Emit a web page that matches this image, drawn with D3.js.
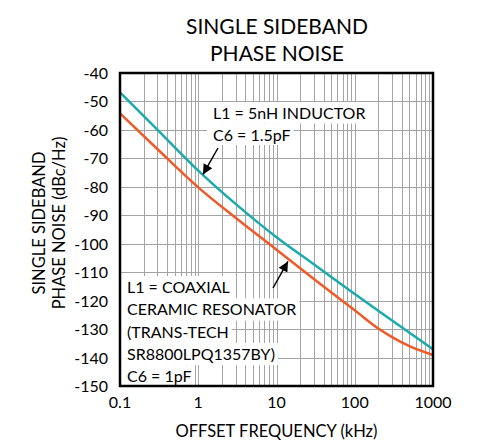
<!DOCTYPE html>
<html>
<head>
<meta charset="utf-8">
<script src="https://cdn.jsdelivr.net/npm/d3@7"></script>
<style>
body { margin: 0; background: #fff; }
svg { display: block; font-family: Lato, "Noto Sans", sans-serif; }
</style>
</head>
<body>
<div id="chart"></div>
<script>
var width = 481;
var height = 440;

// offset frequency (kHz) and SSB phase noise (dBc/Hz)
var freqInductor = [0.1, 0.3, 1, 3, 10, 30, 100, 300, 1000];
var inductorNoise = [-46.8, -59.9, -74.3, -86.0, -97.7, -107.2, -117.7, -127.0, -137.1];
var freqResonator = [0.1, 0.3, 1, 3, 10, 30, 100, 200, 300, 500, 1000];
var resonatorNoise = [-54.2, -66.7, -80.2, -90.9, -102.1, -112.4, -123.4, -129.8, -132.8, -136.0, -139.1];

var xTicks = [0.1, 1, 10, 100, 1000];
var xTickLabels = ["0.1", "1", "10", "100", "1000"];
var yTicks = [-40, -50, -60, -70, -80, -90, -100, -110, -120, -130, -140, -150];

var margin = { top: 73, right: 48, bottom: 54, left: 120 };

var x = d3.scaleLog().domain([0.1, 1000]).range([margin.left, width - margin.right]);
var y = d3.scaleLinear().domain([-150, -40]).range([height - margin.bottom, margin.top]);

var svg = d3.select("#chart").append("svg")
	.attr("width", width)
	.attr("height", height);

svg.append("defs").append("marker")
	.attr("id", "arrow")
	.attr("viewBox", "0 0 10 10")
	.attr("refX", 10).attr("refY", 5)
	.attr("markerWidth", 14).attr("markerHeight", 10)
	.attr("markerUnits", "userSpaceOnUse")
	.attr("orient", "auto")
	.append("path")
	.attr("d", "M0,0 L10,5 L0,10 z")
	.attr("fill", "#000");

// title
svg.append("text")
	.attr("x", 277).attr("y", 34)
	.attr("text-anchor", "middle")
	.attr("font-size", 21)
	.text("SINGLE SIDEBAND");
svg.append("text")
	.attr("x", 277).attr("y", 61)
	.attr("text-anchor", "middle")
	.attr("font-size", 21)
	.text("PHASE NOISE");

// grid
var minor = [];
for (var dec = 0.1; dec < 1000; dec *= 10) {
	for (var k = 1; k <= 10; k++) minor.push(+(dec * k).toPrecision(3));
}
var grid = svg.append("g").attr("stroke", "#a4a4a4").attr("stroke-width", 1);
grid.selectAll("line.v")
	.data(minor)
	.enter().append("line")
	.attr("class", "v")
	.attr("x1", function (d) { return Math.round(x(d)) + 0.5; })
	.attr("x2", function (d) { return Math.round(x(d)) + 0.5; })
	.attr("y1", y(-40)).attr("y2", y(-150));
grid.selectAll("line.h")
	.data(yTicks)
	.enter().append("line")
	.attr("class", "h")
	.attr("x1", x(0.1)).attr("x2", x(1000))
	.attr("y1", function (d) { return Math.round(y(d)) + 0.5; })
	.attr("y2", function (d) { return Math.round(y(d)) + 0.5; });

// curves
var line = d3.line()
	.x(function (d) { return x(d[0]); })
	.y(function (d) { return y(d[1]); })
	.curve(d3.curveMonotoneX);

svg.append("path")
	.attr("d", line(d3.zip(freqResonator, resonatorNoise)))
	.attr("fill", "none")
	.attr("stroke", "#f05a28")
	.attr("stroke-width", 2.5);
svg.append("path")
	.attr("d", line(d3.zip(freqInductor, inductorNoise)))
	.attr("fill", "none")
	.attr("stroke", "#1aabad")
	.attr("stroke-width", 2.5);

// annotations with white backing per line
function note(lines, x0, y0, step, boxLeft) {
	var g = svg.append("g");
	var texts = [];
	lines.forEach(function (s, i) {
		texts.push(g.append("text")
			.attr("x", x0).attr("y", y0 + i * step)
			.attr("font-size", 16)
			.text(s));
	});
	texts.forEach(function (t, i) {
		var bb = t.node().getBBox();
		g.insert("rect", "text")
			.attr("x", boxLeft)
			.attr("y", y0 + i * step - 17)
			.attr("width", bb.x + bb.width + 3 - boxLeft)
			.attr("height", step)
			.attr("fill", "#fff");
	});
}
note(["L1 = 5nH INDUCTOR", "C6 = 1.5pF"], 213, 119, 21.5, 207);
note(["L1 = COAXIAL", "CERAMIC RESONATOR", "(TRANS-TECH", "SR8800LPQ1357BY)", "C6 = 1pF"], 127, 293, 22.3, x(0.1));

// arrows
svg.append("line")
	.attr("x1", 218).attr("y1", 148)
	.attr("x2", x(1.15)).attr("y2", y(-76) - 1)
	.attr("stroke", "#000").attr("stroke-width", 1.5)
	.attr("marker-end", "url(#arrow)");
svg.append("line")
	.attr("x1", 273).attr("y1", 288)
	.attr("x2", x(14)).attr("y2", y(-105.5) + 2)
	.attr("stroke", "#000").attr("stroke-width", 1.5)
	.attr("marker-end", "url(#arrow)");

// frame
svg.append("rect")
	.attr("x", x(0.1)).attr("y", y(-40))
	.attr("width", x(1000) - x(0.1))
	.attr("height", y(-150) - y(-40))
	.attr("fill", "none")
	.attr("stroke", "#000")
	.attr("stroke-width", 2.5);

// tick labels
svg.append("g").selectAll("text")
	.data(yTicks)
	.enter().append("text")
	.attr("x", 108)
	.attr("y", function (d) { return y(d) + 6; })
	.attr("text-anchor", "end")
	.attr("font-size", 16)
	.text(function (d) { return d; });

svg.append("g").selectAll("text")
	.data(xTicks)
	.enter().append("text")
	.attr("x", function (d) { return x(d); })
	.attr("y", 408)
	.attr("text-anchor", "middle")
	.attr("font-size", 16)
	.text(function (d, i) { return xTickLabels[i]; });

// axis titles
svg.append("text")
	.attr("x", x(0.1) + (x(1000) - x(0.1)) / 2).attr("y", 437)
	.attr("text-anchor", "middle")
	.attr("font-size", 16.5)
	.text("OFFSET FREQUENCY (kHz)");

var yt = svg.append("text")
	.attr("transform", "translate(0,223) rotate(-90)")
	.attr("text-anchor", "middle")
	.attr("font-size", 16.5);
yt.append("tspan").attr("x", 0).attr("y", 45).text("SINGLE SIDEBAND");
yt.append("tspan").attr("x", 0).attr("y", 65).text("PHASE NOISE (dBc/Hz)");
</script>
</body>
</html>
